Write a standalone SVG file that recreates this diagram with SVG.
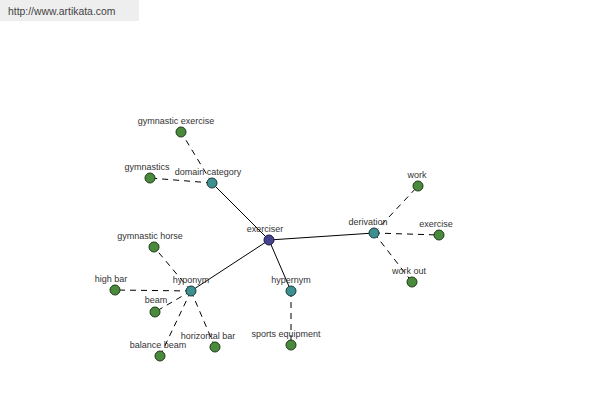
<svg xmlns="http://www.w3.org/2000/svg" width="600" height="400" viewBox="0 0 600 400">
<style>
text{font-family:"Liberation Sans",Arial,sans-serif;font-size:9px;fill:#333;text-anchor:middle}
.s{stroke:#000;stroke-width:1;fill:none}
.d{stroke:#000;stroke-width:1;fill:none;stroke-dasharray:6,5}
.c{fill:#3e9090;stroke:#1a3a3a;stroke-width:1}
.g{fill:#4a8a3c;stroke:#1f3a18;stroke-width:1}
.b{fill:#45458f;stroke:#1a1a40;stroke-width:1}
</style>
<rect x="0" y="0" width="139" height="21" fill="#eeeeee"/>
<text x="8" y="15" style="text-anchor:start;font-size:10.4px;fill:#444">http://www.artikata.com</text>
<g id="connectors">
<line class="s" x1="269" y1="240" x2="212" y2="183"/>
<line class="s" x1="269" y1="240" x2="191" y2="291"/>
<line class="s" x1="269" y1="240" x2="291" y2="291"/>
<line class="s" x1="269" y1="240" x2="374" y2="233"/>
<line class="d" x1="212" y1="183" x2="181" y2="132"/>
<line class="d" x1="212" y1="183" x2="150" y2="178"/>
<line class="d" x1="191" y1="291" x2="154" y2="247"/>
<line class="d" x1="191" y1="291" x2="115" y2="290"/>
<line class="d" x1="191" y1="291" x2="155" y2="312"/>
<line class="d" x1="191" y1="291" x2="160" y2="356"/>
<line class="d" x1="191" y1="291" x2="215" y2="347"/>
<line class="d" x1="291" y1="291" x2="291" y2="345"/>
<line class="d" x1="374" y1="233" x2="418" y2="186"/>
<line class="d" x1="374" y1="233" x2="439" y2="235"/>
<line class="d" x1="374" y1="233" x2="412" y2="282"/>
</g>
<g id="n-exerciser"><circle class="b" cx="269" cy="240" r="5"/><text x="265" y="232">exerciser</text></g>
<g id="n-domain"><circle class="c" cx="212" cy="183" r="5"/><text x="208" y="175">domain category</text></g>
<g id="n-gymex"><circle class="g" cx="181" cy="132" r="5"/><text x="176" y="124">gymnastic exercise</text></g>
<g id="n-gymnastics"><circle class="g" cx="150" cy="178" r="5"/><text x="147" y="170">gymnastics</text></g>
<g id="n-hyponym"><circle class="c" cx="191" cy="291" r="5"/><text x="191" y="283">hyponym</text></g>
<g id="n-gymhorse"><circle class="g" cx="154" cy="247" r="5"/><text x="150" y="239">gymnastic horse</text></g>
<g id="n-highbar"><circle class="g" cx="115" cy="290" r="5"/><text x="111" y="282">high bar</text></g>
<g id="n-beam"><circle class="g" cx="155" cy="312" r="5"/><text x="156" y="303">beam</text></g>
<g id="n-balance"><circle class="g" cx="160" cy="356" r="5"/><text x="158" y="348">balance beam</text></g>
<g id="n-horiz"><circle class="g" cx="215" cy="347" r="5"/><text x="208" y="339">horizontal bar</text></g>
<g id="n-hypernym"><circle class="c" cx="291" cy="291" r="5"/><text x="291" y="283">hypernym</text></g>
<g id="n-sports"><circle class="g" cx="291" cy="345" r="5"/><text x="286" y="337">sports equipment</text></g>
<g id="n-derivation"><circle class="c" cx="374" cy="233" r="5"/><text x="368" y="225">derivation</text></g>
<g id="n-work"><circle class="g" cx="418" cy="186" r="5"/><text x="417" y="178">work</text></g>
<g id="n-exercise"><circle class="g" cx="439" cy="235" r="5"/><text x="436" y="227">exercise</text></g>
<g id="n-workout"><circle class="g" cx="412" cy="282" r="5"/><text x="409" y="274">work out</text></g>
</svg>
